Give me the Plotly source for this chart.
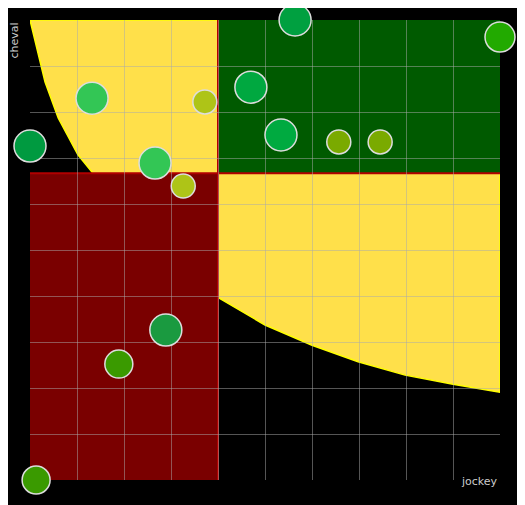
import plotly.graph_objects as go

jockey = [0.564, 1.0, 0.132, 0.372, 0.470, 0.0, 0.534, 0.657, 0.745, 0.266, 0.326, 0.289, 0.189, 0.013]
cheval = [1.0, 0.963, 0.830, 0.822, 0.854, 0.726, 0.75, 0.735, 0.735, 0.689, 0.639, 0.326, 0.252, 0.0]
sizes = [32, 30, 32, 24, 32, 32, 32, 24, 24, 32, 24, 32, 28, 28]
colors = ["#00a040", "#22aa00", "#33c655", "#aec417", "#00a840", "#009a40", "#00aa40",
          "#7aaa00", "#7aaa00", "#33c655", "#aec417", "#1a9a40", "#3a9a00", "#3a9a00"]
x_split, y_split = 0.4, 0.667
curve_x = [0.0, 0.032, 0.06, 0.102, 0.134, 0.202, 0.302, 0.398, 0.5, 0.6, 0.698, 0.798, 0.9, 1.0]
curve_y = [1.0, 0.865, 0.787, 0.707, 0.667, 0.572, 0.472, 0.398, 0.337, 0.293, 0.257, 0.228, 0.208, 0.191]

path = "M " + " L ".join(f"{a} {b}" for a, b in zip(curve_x, curve_y)) + " L 1 1 Z"

fig = go.Figure()
fig.add_trace(go.Scatter(x=jockey, y=cheval, mode="markers", cliponaxis=False,
                         marker=dict(size=sizes, color=colors, opacity=1,
                                     line=dict(color="#dddddd", width=1.5)),
                         hoverinfo="skip"))
shapes = [
    dict(type="path", path=path, fillcolor="#ffe04a", line=dict(color="#ffff00", width=1.5), layer="below"),
    dict(type="rect", x0=0, x1=x_split, y0=0, y1=y_split, fillcolor="#7a0000", line_width=0, layer="below"),
    dict(type="rect", x0=x_split, x1=1, y0=y_split, y1=1, fillcolor="#005a00", line_width=0, layer="below"),
    dict(type="line", x0=x_split, x1=x_split, y0=0, y1=1, line=dict(color="#b00000", width=2), layer="below"),
    dict(type="line", x0=0, x1=1, y0=y_split, y1=y_split, line=dict(color="#b00000", width=2), layer="below"),
]
fig.update_layout(
    width=525, height=505, paper_bgcolor="black", plot_bgcolor="black",
    margin=dict(l=22, r=33, t=12, b=33), showlegend=False, shapes=shapes,
    xaxis=dict(range=[0, 1], dtick=0.1, showticklabels=False, gridcolor="rgba(170,170,170,0.5)", zeroline=False, showline=False),
    yaxis=dict(range=[0, 1], dtick=0.1, showticklabels=False, gridcolor="rgba(170,170,170,0.5)", zeroline=False, showline=False),
    annotations=[
        dict(text="cheval", x=-0.033, y=1.0, xref="paper", yref="paper", showarrow=False, textangle=-90,
             font=dict(color="#cccccc", size=11, family="DejaVu Sans"), xanchor="center", yanchor="top"),
        dict(text="jockey", x=1, y=0, xref="paper", yref="paper", showarrow=False, yshift=-10, xanchor="right",
             font=dict(color="#cccccc", size=11, family="DejaVu Sans")),
    ],
)
fig.write_html("out.html")
